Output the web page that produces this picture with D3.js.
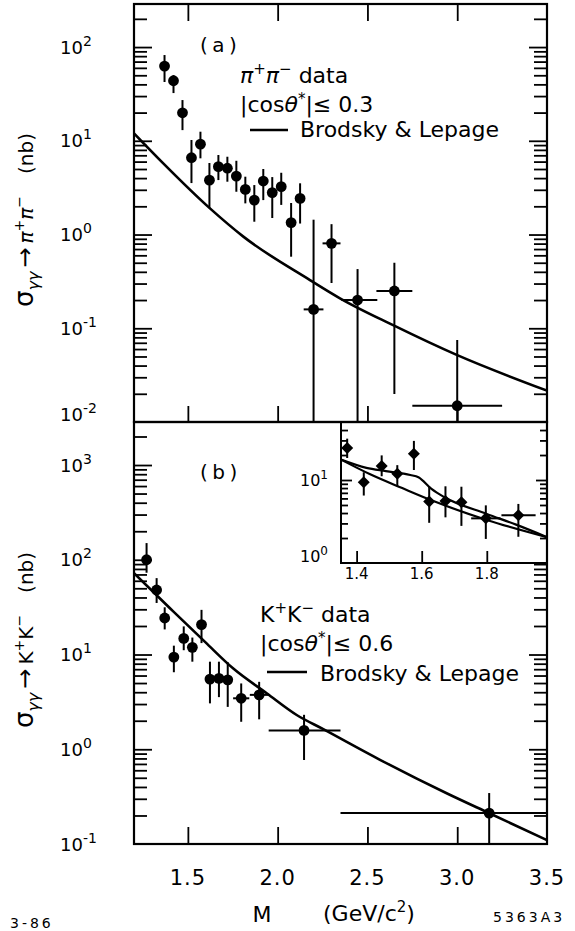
<!DOCTYPE html>
<html>
<head>
<meta charset="utf-8">
<script src="https://cdn.jsdelivr.net/npm/d3@7"></script>
<style>
  html, body { margin: 0; padding: 0; background: #fff; }
  svg { display: block; }
  text { font-family: "DejaVu Sans", sans-serif; fill: #000; }
</style>
</head>
<body>
<svg id="chart" width="575" height="931"></svg>
<script>
// ---------------- data ----------------
const massTicks = [1.5, 2.0, 2.5, 3.0];
const massLabelValues = [1.5, 2.0, 2.5, 3.0, 3.5];
const massTickLabels = ["1.5", "2.0", "2.5", "3.0", "3.5"];
const insetMassTicks = [1.4, 1.6, 1.8];
const insetMassTickLabels = ["1.4", "1.6", "1.8"];
const piDecades = [-2, -1, 0, 1, 2];
const kDecades = [-1, 0, 1, 2, 3];
const insetDecades = [0, 1];

// gamma gamma -> pi+ pi-  (nb), |cos theta*| <= 0.3
const piMass    = [1.37, 1.42, 1.47, 1.52, 1.57, 1.62, 1.67, 1.72, 1.77, 1.82, 1.87, 1.92, 1.97, 2.02, 2.075, 2.125, 2.2, 2.3, 2.445, 2.65, 3.0];
const piSigma   = [62.7, 43.7, 19.9, 6.6, 9.2, 3.8, 5.3, 5.1, 4.2, 3.03, 2.33, 3.72, 2.8, 3.24, 1.34, 2.43, 0.159, 0.805, 0.2, 0.25, 0.0149];
const piSigmaLo = [42.4, 32.3, 13.0, 3.54, 6.5, 1.92, 3.81, 3.66, 2.86, 2.15, 1.37, 2.33, 1.5, 2.07, 0.58, 1.31, 0.01, 0.304, 0.01, 0.0199, 0.01];
const piSigmaHi = [82.2, 50.2, 27.2, 10.2, 12.5, 5.8, 7.05, 6.76, 6.12, 4.14, 3.37, 5.0, 4.1, 4.56, 2.17, 3.52, 1.44, 1.29, 0.428, 0.5, 0.075];
const piMassLo  = [1.37, 1.42, 1.47, 1.52, 1.57, 1.62, 1.67, 1.72, 1.77, 1.82, 1.87, 1.92, 1.97, 2.02, 2.075, 2.125, 2.145, 2.25, 2.355, 2.55, 2.75];
const piMassHi  = [1.37, 1.42, 1.47, 1.52, 1.57, 1.62, 1.67, 1.72, 1.77, 1.82, 1.87, 1.92, 1.97, 2.02, 2.075, 2.125, 2.255, 2.35, 2.555, 2.75, 3.25];

// gamma gamma -> K+ K-  (nb), |cos theta*| <= 0.6
const kMass    = [1.27, 1.326, 1.371, 1.422, 1.477, 1.525, 1.576, 1.623, 1.673, 1.722, 1.797, 1.897, 2.147, 3.178];
const kSigma   = [100, 48, 24.3, 9.4, 14.8, 11.9, 20.7, 5.5, 5.6, 5.4, 3.45, 3.75, 1.58, 0.212];
const kSigmaLo = [73, 35, 18.4, 6.5, 11.1, 8.4, 13.2, 3.05, 3.55, 2.8, 1.95, 2.07, 0.77, 0.1];
const kSigmaHi = [150, 64, 31.5, 12.4, 19.8, 15.1, 29.6, 8.4, 8.4, 8.3, 4.95, 5.15, 2.31, 0.345];
const kMassLo  = [1.27, 1.326, 1.371, 1.422, 1.477, 1.525, 1.576, 1.623, 1.673, 1.722, 1.752, 1.845, 1.95, 2.35];
const kMassHi  = [1.27, 1.326, 1.371, 1.422, 1.477, 1.525, 1.576, 1.623, 1.673, 1.722, 1.842, 1.95, 2.35, 4.0];

// Brodsky & Lepage predictions
const piTheoryMass = [1.2, 1.363, 1.623, 1.809, 2.18, 2.347, 2.643, 2.997, 3.5];
const piTheory     = [12.0, 5.74, 1.90, 0.95, 0.327, 0.209, 0.108, 0.052, 0.0216];
const kTheoryMass  = [1.2, 1.399, 1.597, 1.753, 1.939, 2.106, 2.254, 2.57, 2.941, 3.179, 3.5];
const kTheory      = [72, 31, 13.5, 7.1, 3.9, 2.3, 1.63, 0.774, 0.343, 0.211, 0.11];

// curves in the low-mass K+K- inset
const insetUpperMass = [1.352, 1.43, 1.49, 1.565, 1.59, 1.63, 1.67, 1.8, 1.89, 1.985];
const insetUpper     = [17.6, 14.0, 12.8, 11.5, 10.8, 7.8, 6.2, 3.9, 2.9, 2.05];
const insetLowerMass = [1.352, 1.44, 1.54, 1.64, 1.8, 1.985];
const insetLower     = [17.6, 11.8, 8.0, 5.5, 3.3, 2.05];

// ---------------- scales ----------------
const X0 = 134, X1 = 547;
const x   = d3.scaleLinear().domain([1.2, 3.5]).range([X0, X1]);
const yPi = d3.scaleLog().domain([0.01, 288]).range([422, 4]);
const yK  = d3.scaleLog().domain([0.1, 2845]).range([844, 422]);
const xIn = d3.scaleLinear().domain([1.352, 1.985]).range([341, 547]);
const yIn = d3.scaleLog().domain([1, 50]).range([563, 422]);

const svg = d3.select("#chart");
const defs = svg.append("defs");
function clip(id, x0, y0, w, h) {
  defs.append("clipPath").attr("id", id).append("rect")
    .attr("x", x0).attr("y", y0).attr("width", w).attr("height", h);
  return "url(#" + id + ")";
}
const clipTop = clip("clipTop", X0, 4, X1 - X0, 418);
const clipBot = clip("clipBot", X0, 422, X1 - X0, 422);
const clipIn  = clip("clipIn", 341, 422, 206, 141);

// text with raised / lowered pieces
function rich(g, px, py, parts, size, anchor) {
  const t = g.append("text").attr("x", px).attr("y", py)
    .attr("font-size", size).attr("text-anchor", anchor || "start");
  let cur = 0;
  parts.forEach(p => {
    const off = p.shift || 0;
    const ts = t.append("tspan").text(p.t).attr("dy", off - cur);
    if (p.dx) ts.attr("dx", p.dx);
    if (p.size) ts.attr("font-size", p.size);
    if (p.italic) ts.attr("font-style", "italic");
    cur = off;
  });
  return t;
}

const isMajor = v => Math.abs(Math.log10(v) - Math.round(Math.log10(v))) < 1e-9;

// inward log ticks on one side of a panel
function logTicksSide(scale, xPos, side, major, minor, minY) {
  const [a, b] = scale.range();
  const all = scale.ticks().filter(v => {
    const py = scale(v);
    return py < Math.max(a, b) - 0.5 && py > Math.min(a, b) + 0.5 && (minY === undefined || py > minY);
  });
  const maj = all.filter(isMajor), mnr = all.filter(v => !isMajor(v));
  [[maj, major], [mnr, minor]].forEach(([vals, len]) => {
    const ax = side === "left" ? d3.axisLeft(scale) : d3.axisRight(scale);
    const g = svg.append("g").attr("transform", `translate(${xPos},0)`)
      .call(ax.tickValues(vals).tickSize(-len).tickFormat(""));
    g.select(".domain").remove();
    g.selectAll("line").attr("stroke", "#000").attr("stroke-width", 1.8);
  });
}

// mass ticks: down from a top edge, up from a bottom edge
function massAxis(yPos, dir, sc, vals, len) {
  const ax = dir === "top" ? d3.axisTop(sc) : d3.axisBottom(sc);
  const g = svg.append("g").attr("transform", `translate(0,${yPos})`)
    .call(ax.tickValues(vals).tickSize(-len).tickFormat(""));
  g.select(".domain").remove();
  g.selectAll("line").attr("stroke", "#000").attr("stroke-width", 1.8);
}

const line = d3.line().curve(d3.curveMonotoneX);

function errorPoints(clipId, xs, ys, mass, sig, lo, hi, mlo, mhi, marker) {
  const g = svg.append("g").attr("clip-path", clipId);
  mass.forEach((m, i) => {
    g.append("line").attr("x1", xs(m)).attr("x2", xs(m))
      .attr("y1", ys(lo[i])).attr("y2", ys(hi[i]))
      .attr("stroke", "#000").attr("stroke-width", 2);
    if (mhi[i] > mlo[i]) {
      g.append("line").attr("x1", xs(mlo[i])).attr("x2", xs(mhi[i]))
        .attr("y1", ys(sig[i])).attr("y2", ys(sig[i]))
        .attr("stroke", "#000").attr("stroke-width", 2);
    }
    if (marker === "circle") {
      g.append("circle").attr("cx", xs(m)).attr("cy", ys(sig[i])).attr("r", 5.4).attr("fill", "#000");
    } else {
      g.append("path").attr("d", d3.symbol(d3.symbolSquare, 72)())
        .attr("transform", `translate(${xs(m)},${ys(sig[i])}) rotate(45)`).attr("fill", "#000");
    }
  });
}

// ---------------- panel (a): pi+ pi- ----------------
logTicksSide(yPi, X0, "left", 18, 13);
logTicksSide(yPi, X1, "right", 18, 13);
massAxis(4, "top", x, massTicks, 17);
massAxis(422, "bottom", x, massTicks, 16);

svg.append("path")
  .attr("clip-path", clipTop)
  .attr("d", line(piTheoryMass.map((m, i) => [x(m), yPi(piTheory[i])])))
  .attr("fill", "none").attr("stroke", "#000").attr("stroke-width", 2.6);
errorPoints(clipTop, x, yPi, piMass, piSigma, piSigmaLo, piSigmaHi, piMassLo, piMassHi, "circle");

// ---------------- panel (b): K+ K- ----------------
logTicksSide(yK, X0, "left", 18, 13);
logTicksSide(yK, X1, "right", 18, 13, 563);
massAxis(844, "bottom", x, massTicks, 17);

svg.append("path")
  .attr("clip-path", clipBot)
  .attr("d", line(kTheoryMass.map((m, i) => [x(m), yK(kTheory[i])])))
  .attr("fill", "none").attr("stroke", "#000").attr("stroke-width", 2.6);
errorPoints(clipBot, x, yK, kMass, kSigma, kSigmaLo, kSigmaHi, kMassLo, kMassHi, "circle");

// ---------------- inset: low-mass K+ K- ----------------
svg.append("rect").attr("x", 341).attr("y", 422).attr("width", 206).attr("height", 141).attr("fill", "#fff");
logTicksSide(yIn, 341, "left", 11, 7);
logTicksSide(yIn, 547, "right", 11, 7);
massAxis(563, "bottom", xIn, insetMassTicks, 12);

[[insetUpperMass, insetUpper], [insetLowerMass, insetLower]].forEach(([ms, vs]) => {
  svg.append("path").attr("clip-path", clipIn)
    .attr("d", line(ms.map((m, i) => [xIn(m), yIn(vs[i])])))
    .attr("fill", "none").attr("stroke", "#000").attr("stroke-width", 2.2);
});
const inIdx = kMass.map((m, i) => i).filter(i => kMass[i] >= 1.352 && kMass[i] <= 1.985);
errorPoints(clipIn, xIn, yIn,
  inIdx.map(i => kMass[i]), inIdx.map(i => kSigma[i]), inIdx.map(i => kSigmaLo[i]),
  inIdx.map(i => kSigmaHi[i]), inIdx.map(i => kMassLo[i]), inIdx.map(i => kMassHi[i]), "diamond");

svg.append("rect").attr("x", 341).attr("y", 422).attr("width", 206).attr("height", 141)
  .attr("fill", "none").attr("stroke", "#000").attr("stroke-width", 2);

// ---------------- frames ----------------
svg.append("rect").attr("x", X0).attr("y", 4).attr("width", X1 - X0).attr("height", 418)
  .attr("fill", "none").attr("stroke", "#000").attr("stroke-width", 2.2);
svg.append("rect").attr("x", X0).attr("y", 422).attr("width", X1 - X0).attr("height", 422)
  .attr("fill", "none").attr("stroke", "#000").attr("stroke-width", 2.2);

// ---------------- tick labels ----------------
function decadeLabel(px, py, d, size, supSize) {
  rich(svg, px, py, [{ t: "10" }, { t: d < 0 ? "-" + Math.abs(d) : String(d), shift: -Math.round(size * 0.45), size: supSize }], size);
}
piDecades.forEach(d => {
  const py = yPi(Math.pow(10, d)) + (d === -2 ? -1 : 6.5);
  decadeLabel(60, py, d, 18, 14);
});
kDecades.forEach(d => decadeLabel(60, yK(Math.pow(10, d)) + 6.5, d, 18, 14));
insetDecades.forEach(d => decadeLabel(300, yIn(Math.pow(10, d)) + (d === 0 ? -1 : 6), d, 16, 12));

massLabelValues.forEach((m, i) => {
  svg.append("text").attr("x", x(m)).attr("y", 885).attr("text-anchor", "middle")
    .attr("font-size", 21).attr("letter-spacing", 1).text(massTickLabels[i]);
});
insetMassTicks.forEach((m, i) => {
  svg.append("text").attr("x", xIn(m)).attr("y", 579).attr("text-anchor", "middle")
    .attr("font-size", 15).text(insetMassTickLabels[i]);
});

// ---------------- axis titles ----------------
svg.append("text").attr("x", 262).attr("y", 922).attr("text-anchor", "middle").attr("font-size", 22).text("M");
rich(svg, 323, 921, [{ t: "(GeV/c" }, { t: "2", shift: -9, size: 15 }, { t: ")" }], 22);

function yTitle(cy, particle) {
  const g = svg.append("g").attr("transform", `translate(33,${cy}) rotate(-90)`);
  rich(g, 0, 0, [
    { t: "σ", size: 26 },
    { t: "γγ", shift: 6, size: 16, italic: true },
    { t: "→", shift: 0, size: 24, dx: 4 },
    { t: particle, italic: particle === "π", dx: 4 },
    { t: "+", shift: -9, size: 14 },
    { t: particle, italic: particle === "π" },
    { t: "−", shift: -9, size: 14 },
    { t: "(nb)", dx: 22 }
  ], 20, "middle");
}
yTitle(220, "π");
yTitle(640, "K");

// ---------------- panel annotations ----------------
svg.append("text").attr("x", 200).attr("y", 52).attr("font-size", 20).attr("letter-spacing", 4.5).text("(a)");
svg.append("text").attr("x", 200).attr("y", 479).attr("font-size", 20).attr("letter-spacing", 4.5).text("(b)");

function legend(x0, yTop, particle, cut) {
  rich(svg, x0, yTop, [
    { t: particle, italic: particle === "π" }, { t: "+", shift: -9, size: 15 },
    { t: particle, italic: particle === "π" }, { t: "−", shift: -9, size: 15 },
    { t: " data" }
  ], 22);
  rich(svg, x0, yTop + 29, [
    { t: "|cos" }, { t: "θ", italic: true }, { t: "*", shift: -8, size: 15 }, { t: "|≤ " + cut }
  ], 22);
}
legend(240, 83, "π", "0.3");
svg.append("line").attr("x1", 250).attr("x2", 288).attr("y1", 130).attr("y2", 130)
  .attr("stroke", "#000").attr("stroke-width", 2.6);
svg.append("text").attr("x", 300).attr("y", 137).attr("font-size", 22).text("Brodsky & Lepage");

legend(260, 622, "K", "0.6");
svg.append("line").attr("x1", 267).attr("x2", 307).attr("y1", 672).attr("y2", 672)
  .attr("stroke", "#000").attr("stroke-width", 2.6);
svg.append("text").attr("x", 320).attr("y", 681).attr("font-size", 22).text("Brodsky & Lepage");

// ---------------- footer ----------------
svg.append("text").attr("x", 10).attr("y", 928).attr("font-size", 14).attr("letter-spacing", 3).text("3-86");
svg.append("text").attr("x", 493).attr("y", 922).attr("font-size", 14).attr("letter-spacing", 3).text("5363A3");
</script>
</body>
</html>
